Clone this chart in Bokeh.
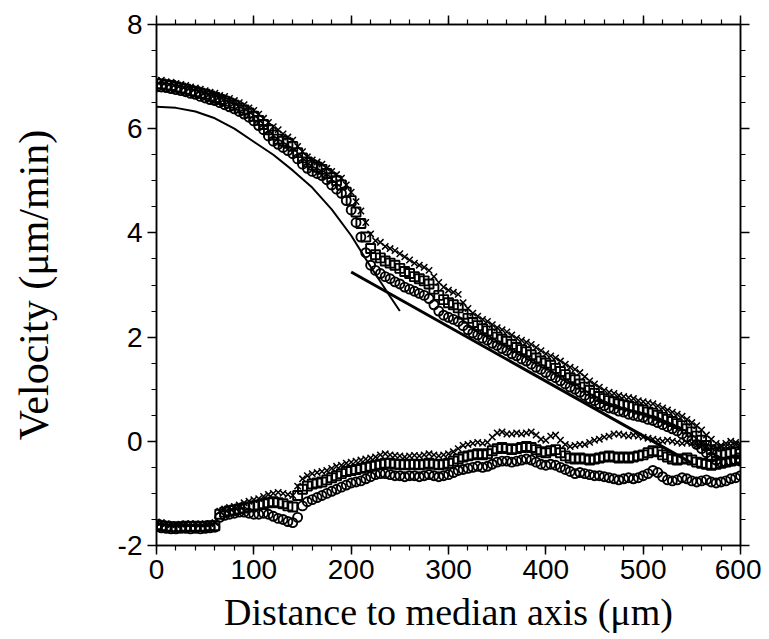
import numpy as np
from bokeh.plotting import figure
from bokeh.models import LinearAxis, SingleIntervalTicker, Range1d, CustomJSTickFormatter
from bokeh.embed import file_html
from bokeh.resources import INLINE

# ---------------- data ----------------
x_um = list(range(0, 601, 5))

upper_cross = [6.92, 6.93, 6.90, 6.89, 6.87, 6.85, 6.83, 6.80, 6.78, 6.76, 6.73, 6.70, 6.68, 6.64, 6.62, 6.58,
               6.54, 6.50, 6.46, 6.40, 6.35, 6.28, 6.20, 6.12, 6.04, 5.98, 5.90, 5.84, 5.78, 5.66, 5.56, 5.46,
               5.40, 5.36, 5.32, 5.24, 5.18, 5.12, 5.05, 4.92, 4.78, 4.60, 4.42, 4.20, 3.98, 3.85, 3.82, 3.74,
               3.70, 3.66, 3.60, 3.54, 3.48, 3.42, 3.38, 3.34, 3.28, 3.16, 3.05, 2.96, 2.90, 2.86, 2.82, 2.66,
               2.55, 2.46, 2.40, 2.34, 2.30, 2.24, 2.18, 2.14, 2.10, 2.04, 1.98, 1.94, 1.90, 1.86, 1.80, 1.74,
               1.68, 1.64, 1.60, 1.54, 1.48, 1.42, 1.38, 1.32, 1.24, 1.16, 1.10, 1.04, 0.98, 0.94, 0.92, 0.88,
               0.86, 0.84, 0.82, 0.78, 0.76, 0.74, 0.72, 0.68, 0.64, 0.60, 0.56, 0.52, 0.48, 0.42, 0.36, 0.30,
               0.22, 0.12, 0.04, -0.04, -0.08, -0.10, -0.08, -0.06, -0.10]

upper_square = [6.86, 6.86, 6.84, 6.83, 6.80, 6.78, 6.76, 6.73, 6.71, 6.68, 6.66, 6.63, 6.60, 6.56, 6.53, 6.49,
                6.45, 6.40, 6.36, 6.30, 6.24, 6.16, 6.08, 5.98, 5.88, 5.80, 5.76, 5.72, 5.66, 5.54, 5.44, 5.36,
                5.30, 5.26, 5.22, 5.14, 5.06, 5.00, 4.92, 4.78, 4.62, 4.40, 4.18, 3.92, 3.70, 3.58, 3.52, 3.46,
                3.42, 3.38, 3.32, 3.26, 3.22, 3.16, 3.12, 3.08, 3.02, 2.92, 2.80, 2.72, 2.66, 2.62, 2.56, 2.44,
                2.36, 2.28, 2.22, 2.16, 2.12, 2.06, 2.00, 1.96, 1.92, 1.86, 1.80, 1.76, 1.72, 1.66, 1.60, 1.54,
                1.50, 1.46, 1.40, 1.34, 1.28, 1.22, 1.18, 1.10, 1.04, 0.98, 0.92, 0.86, 0.82, 0.78, 0.76, 0.72,
                0.70, 0.68, 0.66, 0.62, 0.60, 0.56, 0.54, 0.50, 0.46, 0.42, 0.38, 0.34, 0.30, 0.24, 0.18, 0.10,
                0.02, -0.08, -0.16, -0.22, -0.26, -0.24, -0.22, -0.20, -0.24]

upper_circle = [6.80, 6.80, 6.79, 6.77, 6.75, 6.73, 6.71, 6.68, 6.66, 6.62, 6.59, 6.56, 6.54, 6.50, 6.46, 6.42,
                6.38, 6.33, 6.28, 6.22, 6.15, 6.06, 5.98, 5.86, 5.76, 5.70, 5.64, 5.58, 5.52, 5.42, 5.32, 5.24,
                5.18, 5.14, 5.10, 5.02, 4.92, 4.84, 4.76, 4.62, 4.44, 4.20, 3.92, 3.62, 3.38, 3.28, 3.22, 3.16,
                3.12, 3.06, 3.02, 2.96, 2.92, 2.88, 2.84, 2.80, 2.74, 2.62, 2.50, 2.42, 2.38, 2.34, 2.30, 2.22,
                2.14, 2.08, 2.04, 1.98, 1.94, 1.88, 1.84, 1.78, 1.74, 1.68, 1.64, 1.58, 1.54, 1.48, 1.42, 1.38,
                1.32, 1.26, 1.22, 1.16, 1.10, 1.04, 1.00, 0.94, 0.88, 0.82, 0.78, 0.72, 0.68, 0.64, 0.62, 0.58,
                0.56, 0.52, 0.50, 0.48, 0.46, 0.42, 0.40, 0.36, 0.32, 0.28, 0.24, 0.20, 0.14, 0.08, 0.02, -0.06,
                -0.14, -0.22, -0.30, -0.36, -0.40, -0.40, -0.38, -0.36, -0.38]

lower_cross = [-1.55, -1.56, -1.58, -1.60, -1.60, -1.59, -1.58, -1.58, -1.58, -1.59, -1.58, -1.58, -1.56, -1.34,
               -1.30, -1.27, -1.25, -1.22, -1.18, -1.15, -1.12, -1.10, -1.06, -1.02, -1.00, -0.98, -1.00, -1.02,
               -1.04, -0.86, -0.72, -0.66, -0.62, -0.60, -0.58, -0.56, -0.52, -0.48, -0.46, -0.42, -0.40, -0.38,
               -0.36, -0.34, -0.32, -0.30, -0.26, -0.24, -0.26, -0.27, -0.28, -0.30, -0.28, -0.27, -0.28, -0.26,
               -0.24, -0.26, -0.28, -0.26, -0.24, -0.20, -0.14, -0.08, -0.06, -0.04, -0.02, -0.04, -0.02, 0.08,
               0.16, 0.18, 0.14, 0.14, 0.16, 0.14, 0.16, 0.18, 0.12, 0.04, 0.02, 0.10, 0.12, 0.02, -0.06, -0.10,
               -0.08, -0.06, -0.06, -0.02, 0.02, 0.04, 0.08, 0.10, 0.14, 0.14, 0.12, 0.10, 0.12, 0.10, 0.08, 0.06,
               0.04, 0.02, 0.00, 0.02, 0.00, -0.02, -0.04, -0.02, -0.04, -0.08, -0.06, -0.08, -0.12, -0.14, -0.10,
               -0.04, 0.00, -0.02, -0.06]

lower_square = [-1.60, -1.62, -1.63, -1.64, -1.65, -1.64, -1.63, -1.64, -1.63, -1.64, -1.63, -1.62, -1.62, -1.40,
                -1.36, -1.33, -1.32, -1.30, -1.28, -1.26, -1.24, -1.22, -1.20, -1.18, -1.16, -1.18, -1.20, -1.24,
                -1.26, -1.04, -0.92, -0.86, -0.82, -0.80, -0.78, -0.74, -0.70, -0.66, -0.62, -0.58, -0.56, -0.54,
                -0.52, -0.50, -0.48, -0.46, -0.44, -0.42, -0.42, -0.44, -0.44, -0.45, -0.44, -0.44, -0.45, -0.44,
                -0.42, -0.44, -0.45, -0.44, -0.42, -0.38, -0.34, -0.30, -0.28, -0.26, -0.24, -0.26, -0.24, -0.18,
                -0.14, -0.12, -0.14, -0.16, -0.14, -0.12, -0.10, -0.12, -0.16, -0.20, -0.22, -0.18, -0.16, -0.22,
                -0.28, -0.32, -0.34, -0.32, -0.34, -0.36, -0.34, -0.32, -0.30, -0.28, -0.30, -0.32, -0.30, -0.32,
                -0.30, -0.28, -0.26, -0.22, -0.18, -0.20, -0.26, -0.30, -0.34, -0.36, -0.34, -0.32, -0.36, -0.40,
                -0.42, -0.44, -0.46, -0.44, -0.42, -0.40, -0.38, -0.36, -0.32]

lower_circle = [-1.64, -1.66, -1.67, -1.68, -1.68, -1.67, -1.67, -1.68, -1.67, -1.68, -1.67, -1.66, -1.65, -1.46,
                -1.42, -1.40, -1.38, -1.36, -1.36, -1.38, -1.40, -1.40, -1.38, -1.40, -1.44, -1.48, -1.50, -1.54,
                -1.56, -1.46, -1.24, -1.16, -1.12, -1.08, -1.04, -1.00, -0.96, -0.92, -0.88, -0.84, -0.80, -0.78,
                -0.76, -0.72, -0.68, -0.64, -0.62, -0.62, -0.64, -0.66, -0.66, -0.68, -0.66, -0.66, -0.68, -0.66,
                -0.64, -0.66, -0.68, -0.66, -0.64, -0.60, -0.56, -0.54, -0.52, -0.50, -0.48, -0.50, -0.48, -0.44,
                -0.40, -0.38, -0.38, -0.40, -0.38, -0.36, -0.34, -0.36, -0.40, -0.44, -0.46, -0.44, -0.46, -0.50,
                -0.54, -0.58, -0.62, -0.60, -0.62, -0.64, -0.66, -0.66, -0.68, -0.70, -0.72, -0.74, -0.72, -0.70,
                -0.72, -0.70, -0.66, -0.62, -0.56, -0.60, -0.68, -0.74, -0.76, -0.74, -0.70, -0.72, -0.76, -0.78,
                -0.76, -0.74, -0.78, -0.80, -0.78, -0.76, -0.72, -0.70, -0.66]

# fitted curve near the centre and straight fit in the outer part
fit_curve_x = [0, 20, 40, 60, 80, 100, 120, 140, 160, 180, 200, 220, 240, 250]
fit_curve_y = [6.42, 6.40, 6.33, 6.20, 6.00, 5.75, 5.50, 5.20, 4.87, 4.45, 3.95, 3.35, 2.78, 2.50]
fit_line_x = [200, 550]
fit_line_y = [3.25, -0.42]

# ---------------- figure ----------------
p = figure(width=761, height=638, output_backend="svg", toolbar_location=None,
           x_range=Range1d(0, 600), y_range=Range1d(-2, 8),
           min_border_left=156, min_border_right=21, min_border_top=24, min_border_bottom=93,
           x_axis_label="Distance to median axis (\u03bcm)",
           y_axis_label="Velocity (\u03bcm/min)")
p.grid.visible = False
p.outline_line_color = "black"
p.outline_line_width = 1.5
p.background_fill_color = "white"
p.border_fill_color = "white"

mk = dict(size=9, line_color="black", line_width=1.9, fill_color=None)
p.scatter(x_um, lower_circle, marker="circle", **mk)
p.scatter(x_um, lower_square, marker="square", **mk)
p.scatter(x_um, lower_cross, marker="x", size=9, line_color="black", line_width=1.5)
p.scatter(x_um, upper_circle, marker="circle", **mk)
p.scatter(x_um, upper_square, marker="square", **mk)
p.scatter(x_um, upper_cross, marker="x", size=9, line_color="black", line_width=1.5)

p.line(fit_curve_x, fit_curve_y, line_color="black", line_width=2)
p.line(fit_line_x, fit_line_y, line_color="black", line_width=3)

top = LinearAxis()
right = LinearAxis()
p.add_layout(top, "above")
p.add_layout(right, "right")

bottom = p.below[0]
left = p.left[0]

xt = SingleIntervalTicker(interval=100, num_minor_ticks=5)
yt = SingleIntervalTicker(interval=2, num_minor_ticks=4)
bottom.ticker = xt
top.ticker = xt
left.ticker = yt
right.ticker = yt

for ax in (bottom, top, left, right):
    ax.axis_line_color = "black"
    ax.axis_line_width = 1.5
    ax.major_tick_line_color = "black"
    ax.minor_tick_line_color = "black"
    ax.major_tick_line_width = 1.5
    ax.minor_tick_line_width = 1.2
    ax.major_tick_in = 0
    ax.major_tick_out = 9
    ax.minor_tick_in = 0
    ax.minor_tick_out = 5
    ax.major_label_text_font = "Liberation Sans"
    ax.major_label_text_font_size = "28px"
    ax.major_label_text_color = "black"
    ax.major_label_standoff = 5
    ax.axis_label_text_font = "Liberation Serif"
    ax.axis_label_text_font_style = "normal"
    ax.axis_label_text_color = "black"

bottom.formatter = CustomJSTickFormatter(code="return tick.toString();")
left.formatter = CustomJSTickFormatter(code="return tick.toString();")
top.formatter = CustomJSTickFormatter(code="return '';")
right.formatter = CustomJSTickFormatter(code="return '';")
top.major_label_standoff = 0
right.major_label_standoff = 0

bottom.axis_label_text_font_size = "38px"
bottom.axis_label_standoff = 9
left.axis_label_text_font_size = "42px"
left.axis_label_standoff = 58

open("out.html", "w").write(file_html(p, INLINE))
